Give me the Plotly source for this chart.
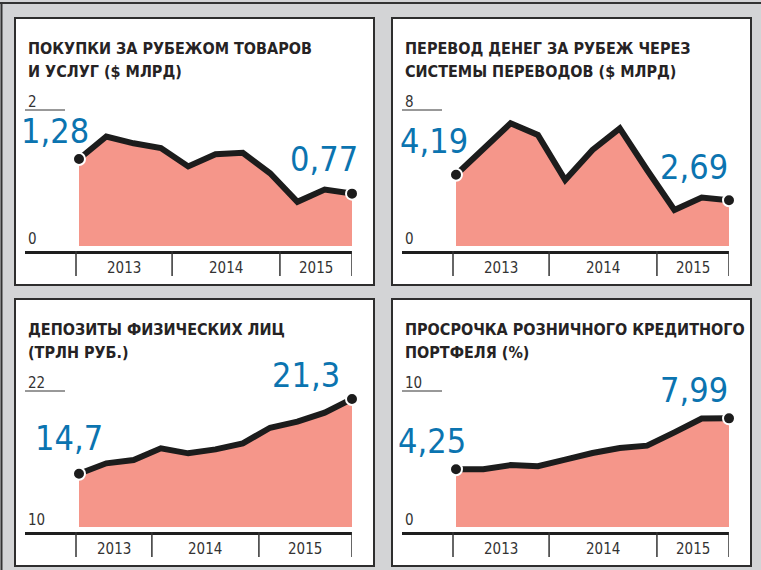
import plotly.graph_objects as go

# ---------------- data ----------------
titles = [
    ["ПОКУПКИ ЗА РУБЕЖОМ ТОВАРОВ", "И УСЛУГ ($ МЛРД)"],
    ["ПЕРЕВОД ДЕНЕГ ЗА РУБЕЖ ЧЕРЕЗ", "СИСТЕМЫ ПЕРЕВОДОВ ($ МЛРД)"],
    ["ДЕПОЗИТЫ ФИЗИЧЕСКИХ ЛИЦ", "(ТРЛН РУБ.)"],
    ["ПРОСРОЧКА РОЗНИЧНОГО КРЕДИТНОГО", "ПОРТФЕЛЯ (%)"],
]
purchases = [1.28, 1.61, 1.51, 1.44, 1.17, 1.35, 1.37, 1.07, 0.65, 0.83, 0.77]
transfers = [4.19, 5.67, 7.22, 6.53, 3.88, 5.65, 6.92, 4.47, 2.12, 2.85, 2.69]
deposits = [14.7, 15.62, 15.91, 16.94, 16.5, 16.85, 17.38, 18.76, 19.29, 20.09, 21.3]
overdue = [4.25, 4.25, 4.55, 4.47, 4.95, 5.44, 5.81, 5.98, 6.96, 7.97, 7.99]
series = [purchases, transfers, deposits, overdue]
first_labels = ["1,28", "4,19", "14,7", "4,25"]
last_labels = ["0,77", "2,69", "21,3", "7,99"]
y_bottom = [0, 0, 10, 0]
y_top = [2, 8, 22, 10]
years = ["2013", "2014", "2015"]
year_bounds = [
    [-0.11, 3.41, 7.36, 10],
    [-0.11, 3.41, 7.36, 10],
    [-0.11, 2.67, 6.59, 10],
    [-0.11, 3.41, 7.36, 10],
]

# ---------------- style / geometry ----------------
W, H = 761, 570
BG = "#d3d4d6"
FILL = "#f5968a"
LINE = "#1c1c1c"
BLUE = "#0b74b0"
DARK = "#262324"
NARROW = "Liberation Sans Narrow, DejaVu Sans Condensed, sans-serif"
BOLD = "DejaVu Sans Condensed, Liberation Sans, sans-serif"

offsets = [(0, 0), (377, 0), (0, 281), (377, 281)]
# label shifts (px) relative to first / last dot
first_shift = [(12, 28), (14, 34), (26, 36), (12, 28)]
last_shift = [(8, 35), (1, 33), (-10, 24), (1, 28)]


def px(x):
    return x / W


def py(y):
    return 1 - y / H


fig = go.Figure()
shapes = []
annotations = []

# outer frame lines
shapes.append(dict(type="line", xref="paper", yref="paper", x0=0, x1=1, y0=py(3), y1=py(3),
                   line=dict(color="#333", width=2)))
shapes.append(dict(type="line", xref="paper", yref="paper", x0=px(1.5), x1=px(1.5), y0=py(3), y1=0,
                   line=dict(color="#333", width=2)))

for i, (ox, oy) in enumerate(offsets):
    vals = series[i]
    n = len(vals)
    xs = list(range(n))
    xa = "x" if i == 0 else f"x{i+1}"
    ya = "y" if i == 0 else f"y{i+1}"
    xl = "xaxis" if i == 0 else f"xaxis{i+1}"
    yl = "yaxis" if i == 0 else f"yaxis{i+1}"

    # panel
    shapes.append(dict(type="rect", xref="paper", yref="paper", layer="below",
                       x0=px(ox + 15), x1=px(ox + 374), y0=py(oy + 18), y1=py(oy + 285),
                       fillcolor="white", line=dict(color="#2e2e2e", width=2)))

    # axes geometry
    ax_left, ax_right = ox + 25, ox + 352
    d0, d1 = ox + 79, ox + 352
    kx = (d1 - d0) / (n - 1)
    base_px, zero_px, top_px = oy + 251, oy + 246, oy + 110
    ky = (zero_px - top_px) / (y_top[i] - y_bottom[i])
    fig.layout[xl] = dict(domain=[px(ax_left), px(ax_right)],
                          range=[-(d0 - ax_left) / kx, n - 1],
                          showgrid=False, zeroline=False, showticklabels=False, ticks="",
                          showline=True, linecolor="#1e1e1e", linewidth=2.5, anchor=ya,
                          fixedrange=True)
    fig.layout[yl] = dict(domain=[py(base_px), py(top_px)],
                          range=[y_bottom[i] - (base_px - zero_px) / ky, y_top[i]],
                          showgrid=False, zeroline=False, showticklabels=False, ticks="",
                          showline=False, anchor=xa, fixedrange=True)

    # base + filled area + line
    fig.add_trace(go.Scatter(x=xs, y=[y_bottom[i]] * n, mode="lines", line=dict(width=0),
                             hoverinfo="skip", showlegend=False, xaxis=xa, yaxis=ya))
    fig.add_trace(go.Scatter(x=xs, y=vals, mode="lines", fill="tonexty", fillcolor=FILL,
                             line=dict(color=LINE, width=6), showlegend=False,
                             xaxis=xa, yaxis=ya))
    fig.add_trace(go.Scatter(x=[xs[0], xs[-1]], y=[vals[0], vals[-1]], mode="markers",
                             marker=dict(size=12, color=LINE, line=dict(color="white", width=2)),
                             cliponaxis=False, showlegend=False, xaxis=xa, yaxis=ya))

    # value labels
    for (xv, yv, txt, (sx, sy)) in [(xs[0], vals[0], first_labels[i], first_shift[i]),
                                    (xs[-1], vals[-1], last_labels[i], last_shift[i])]:
        annotations.append(dict(xref=xa, yref=ya, x=xv, y=yv, text=txt, showarrow=False,
                                xanchor="right", yanchor="middle", xshift=sx, yshift=sy,
                                font=dict(family=NARROW, size=34, color=BLUE)))

    # titles
    for j, line in enumerate(titles[i]):
        annotations.append(dict(xref="paper", yref="paper", x=px(ox + 26), y=py(oy + 48.5 + 23 * j),
                                text=line, showarrow=False, xanchor="left", yanchor="middle",
                                font=dict(family=BOLD, size=16, color=DARK, weight="bold")))

    # y labels & top guide line
    annotations.append(dict(xref="paper", yref="paper", x=px(ox + 26), y=py(top_px - 8),
                            text=str(y_top[i]), showarrow=False, xanchor="left", yanchor="middle",
                            font=dict(family=NARROW, size=15, color="#333")))
    annotations.append(dict(xref="paper", yref="paper", x=px(ox + 26), y=py(oy + 239),
                            text=str(y_bottom[i]), showarrow=False, xanchor="left", yanchor="middle",
                            font=dict(family=NARROW, size=15, color="#333")))
    shapes.append(dict(type="line", xref="paper", yref="paper", x0=px(ox + 25), x1=px(ox + 65),
                       y0=py(top_px), y1=py(top_px), line=dict(color="#333", width=1)))

    # year dividers and labels
    b = year_bounds[i]
    for xb in b:
        shapes.append(dict(type="line", xref=xa, yref="paper", x0=xb, x1=xb,
                           y0=py(oy + 251), y1=py(oy + 276), line=dict(color="#333", width=1.5)))
    for k, yr in enumerate(years):
        annotations.append(dict(xref=xa, yref="paper", x=(b[k] + b[k + 1]) / 2, y=py(oy + 268),
                                text=yr, showarrow=False, xanchor="center", yanchor="middle",
                                font=dict(family=NARROW, size=15, color="#333")))

fig.update_layout(width=W, height=H, margin=dict(l=0, r=0, t=0, b=0),
                  paper_bgcolor=BG, plot_bgcolor="rgba(0,0,0,0)",
                  shapes=shapes, annotations=annotations, showlegend=False)
fig.write_html("out.html", config={"displayModeBar": False},
               post_script="document.body.style.margin='0';document.body.style.background='" + BG + "';")
